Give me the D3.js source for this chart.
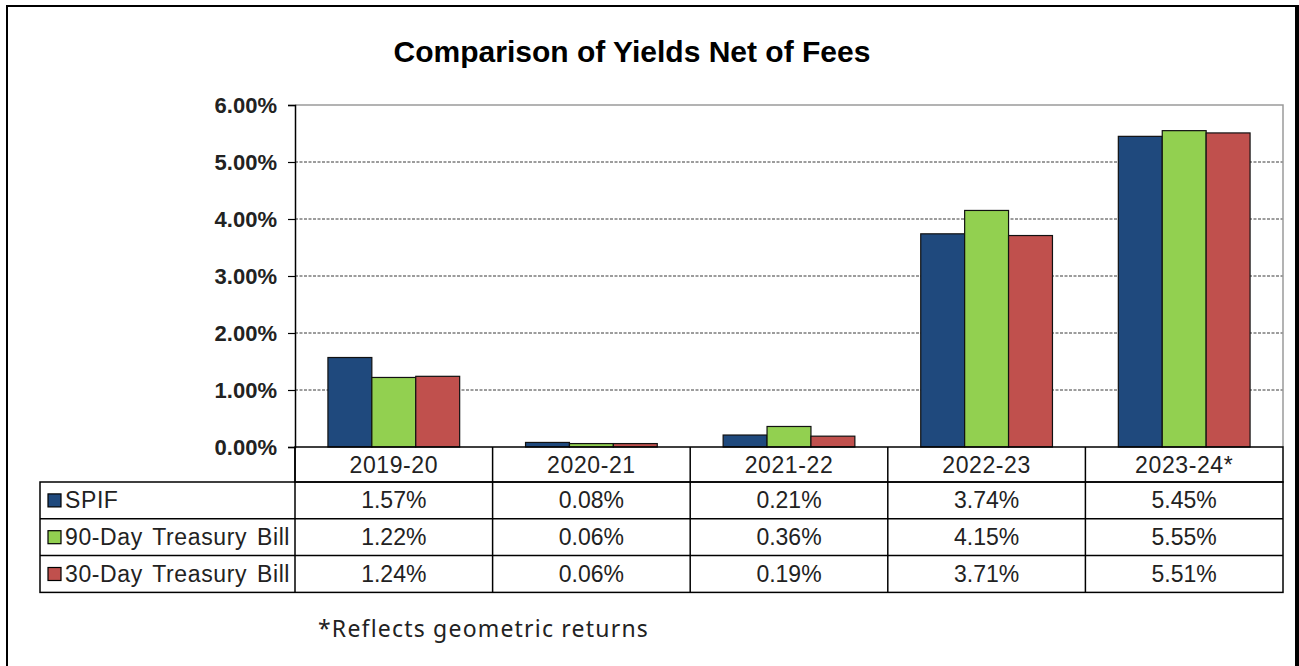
<!DOCTYPE html>
<html>
<head>
<meta charset="utf-8">
<script src="https://cdn.jsdelivr.net/npm/d3@7"></script>
<style>
  body { margin: 0; background: #fff; }
  svg { display: block; }
</style>
</head>
<body>
<div id="chart"></div>
<script>
// chart data
var categories = ["2019-20", "2020-21", "2021-22", "2022-23", "2023-24*"];
var seriesNames = ["SPIF", "90-Day Treasury Bill", "30-Day Treasury Bill"];
var seriesColors = ["#1f497d", "#92d050", "#c0504d"];
var spif = [1.57, 0.08, 0.21, 3.74, 5.45];
var tbill90 = [1.22, 0.06, 0.36, 4.15, 5.55];
var tbill30 = [1.24, 0.06, 0.19, 3.71, 5.51];
var yTicks = [0, 1, 2, 3, 4, 5, 6];
var chartTitle = "Comparison of Yields Net of Fees";
var footnote = "*Reflects geometric returns";

var seriesValues = [spif, tbill90, tbill30];

var W = 1299, H = 666;
var plot = { left: 295, right: 1283, top: 105, bottom: 447 };
var tableLeft = 40;
var headerH = 35;
var rowH = 36.8;

var svg = d3.select("#chart").append("svg")
  .attr("width", W)
  .attr("height", H);

// outer frame
svg.append("rect")
  .attr("x", 7).attr("y", 6)
  .attr("width", 1290).attr("height", 680)
  .attr("fill", "#fff")
  .attr("stroke", "#000")
  .attr("stroke-width", 2);
svg.append("line")
  .attr("x1", 1297).attr("x2", 1297)
  .attr("y1", 5).attr("y2", H)
  .attr("stroke", "#000")
  .attr("stroke-width", 4);

svg.append("text")
  .attr("x", 632)
  .attr("y", 62)
  .attr("text-anchor", "middle")
  .attr("font-family", "Arial, 'Liberation Sans', sans-serif")
  .attr("font-weight", "bold")
  .attr("font-size", 30)
  .attr("fill", "#000")
  .text(chartTitle);

var x0 = d3.scaleBand()
  .domain(categories)
  .range([plot.left, plot.right])
  .padding(0);

var x1 = d3.scaleBand()
  .domain(d3.range(seriesNames.length))
  .range([0, x0.bandwidth()])
  .paddingInner(0)
  .paddingOuter(0.75);

var y = d3.scaleLinear()
  .domain([0, 6])
  .range([plot.bottom, plot.top]);

// gridlines
svg.append("g").selectAll("line")
  .data(yTicks.filter(function (t) { return t > 0 && t < 6; }))
  .enter().append("line")
  .attr("x1", plot.left).attr("x2", plot.right)
  .attr("y1", function (t) { return y(t); })
  .attr("y2", function (t) { return y(t); })
  .attr("stroke", "#3a3a3a")
  .attr("stroke-width", 1)
  .attr("stroke-dasharray", "3,1.5");

// plot border, top and right
svg.append("path")
  .attr("d", "M" + plot.left + "," + y(6) + "H" + plot.right + "V" + plot.bottom)
  .attr("fill", "none")
  .attr("stroke", "#9a9a9a")
  .attr("stroke-width", 1.5);

// bars
var groups = svg.append("g").selectAll("g")
  .data(categories)
  .enter().append("g")
  .attr("transform", function (c) { return "translate(" + x0(c) + ",0)"; });

groups.selectAll("rect")
  .data(function (c, ci) {
    return seriesValues.map(function (vals, si) { return { s: si, v: vals[ci] }; });
  })
  .enter().append("rect")
  .attr("x", function (d) { return x1(d.s); })
  .attr("width", x1.bandwidth())
  .attr("y", function (d) { return y(d.v); })
  .attr("height", function (d) { return y(0) - y(d.v); })
  .attr("fill", function (d) { return seriesColors[d.s]; })
  .attr("stroke", "#111")
  .attr("stroke-width", 1.2);

// y axis
var yAxis = d3.axisLeft(y)
  .tickValues(yTicks)
  .tickSize(7)
  .tickPadding(11)
  .tickFormat(function (t) { return d3.format(".2f")(t) + "%"; });

var yg = svg.append("g")
  .attr("transform", "translate(" + plot.left + ",0)")
  .call(yAxis);
yg.select(".domain").attr("stroke", "#000").attr("stroke-width", 1.5);
yg.selectAll(".tick line").attr("stroke", "#000").attr("stroke-width", 1.2);
yg.selectAll(".tick text")
  .attr("font-family", "Arial, 'Liberation Sans', sans-serif")
  .attr("font-weight", "bold")
  .attr("font-size", 22)
  .attr("fill", "#222");

// data table
var tableFont = "Arial, 'Liberation Sans', sans-serif";
var tableTop = plot.bottom;
var rowsTop = tableTop + headerH;
var tableBottom = rowsTop + rowH * seriesNames.length;
var tg = svg.append("g");

// header cells
tg.append("rect")
  .attr("x", plot.left).attr("y", tableTop)
  .attr("width", plot.right - plot.left).attr("height", headerH)
  .attr("fill", "none").attr("stroke", "#000").attr("stroke-width", 1.5);

tg.selectAll("text.cat")
  .data(categories)
  .enter().append("text")
  .attr("class", "cat")
  .attr("x", function (c) { return x0(c) + x0.bandwidth() / 2; })
  .attr("y", tableTop + headerH / 2 + 8)
  .attr("text-anchor", "middle")
  .attr("font-family", tableFont)
  .attr("font-size", 23)
  .attr("letter-spacing", 0.6)
  .attr("fill", "#222")
  .text(function (c) { return c; });

// body
tg.append("rect")
  .attr("x", tableLeft).attr("y", rowsTop)
  .attr("width", plot.right - tableLeft).attr("height", tableBottom - rowsTop)
  .attr("fill", "none").attr("stroke", "#000").attr("stroke-width", 1.5);

tg.selectAll("line.row")
  .data(d3.range(1, seriesNames.length))
  .enter().append("line")
  .attr("class", "row")
  .attr("x1", tableLeft).attr("x2", plot.right)
  .attr("y1", function (i) { return rowsTop + i * rowH; })
  .attr("y2", function (i) { return rowsTop + i * rowH; })
  .attr("stroke", "#000").attr("stroke-width", 1.5);

tg.selectAll("line.col")
  .data(categories)
  .enter().append("line")
  .attr("class", "col")
  .attr("x1", function (c) { return x0(c); })
  .attr("x2", function (c) { return x0(c); })
  .attr("y1", tableTop).attr("y2", tableBottom)
  .attr("stroke", "#000").attr("stroke-width", 1.5);

var rows = tg.selectAll("g.srow")
  .data(seriesNames)
  .enter().append("g")
  .attr("class", "srow")
  .attr("transform", function (n, i) { return "translate(0," + (rowsTop + i * rowH) + ")"; });

rows.append("rect")
  .attr("x", 48).attr("y", rowH / 2 - 6.5)
  .attr("width", 13).attr("height", 13)
  .attr("fill", function (n, i) { return seriesColors[i]; })
  .attr("stroke", "#000").attr("stroke-width", 1.2);

rows.append("text")
  .attr("x", 65)
  .attr("y", rowH / 2 + 8)
  .attr("font-family", tableFont)
  .attr("font-size", 23)
  .attr("letter-spacing", 0.6)
  .attr("word-spacing", 3)
  .attr("fill", "#222")
  .text(function (n) { return n; });

rows.selectAll("text.val")
  .data(function (n, i) { return seriesValues[i]; })
  .enter().append("text")
  .attr("class", "val")
  .attr("x", function (v, ci) { return x0(categories[ci]) + x0.bandwidth() / 2; })
  .attr("y", rowH / 2 + 8)
  .attr("text-anchor", "middle")
  .attr("font-family", tableFont)
  .attr("font-size", 23)
  .attr("fill", "#222")
  .text(function (v) { return d3.format(".2f")(v) + "%"; });

// footnote
svg.append("text")
  .attr("x", 318)
  .attr("y", 637)
  .attr("font-family", "'Noto Sans', 'Open Sans', sans-serif")
  .attr("font-size", 23)
  .attr("letter-spacing", 1.2)
  .attr("fill", "#222")
  .text(footnote);
</script>
</body>
</html>
